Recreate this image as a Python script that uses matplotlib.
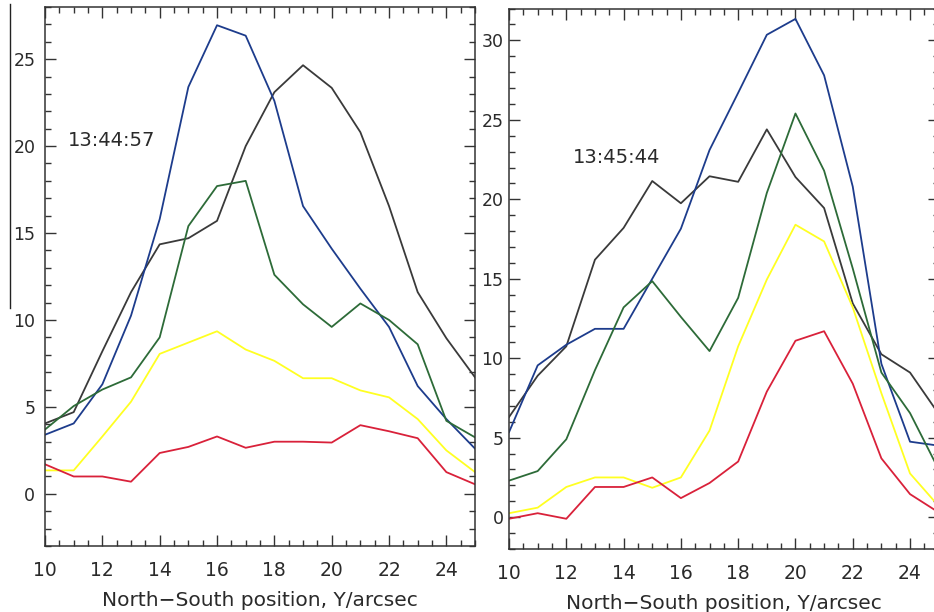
import numpy as np
import matplotlib
matplotlib.use("Agg")
import matplotlib.pyplot as plt
from matplotlib.ticker import MultipleLocator
from matplotlib.lines import Line2D

plt.rcParams['font.family'] = ['DejaVu Sans']

# positions along the slit (arcsec)
y_pos = np.arange(10, 26)

# left panel, 13:44:57
left_black = [4.05, 4.7, 8.2, 11.6, 14.35, 14.7, 15.7, 20.0, 23.1, 24.65, 23.35, 20.8, 16.55, 11.6, 8.95, 6.7]
left_blue = [3.4, 4.05, 6.3, 10.25, 15.8, 23.4, 26.95, 26.35, 22.6, 16.55, 14.1, 11.8, 9.6, 6.2, 4.3, 2.6]
left_green = [3.7, 5.05, 6.0, 6.7, 9.0, 15.4, 17.7, 18.0, 12.6, 10.9, 9.6, 10.95, 10.0, 8.6, 4.2, 3.25]
left_yellow = [1.35, 1.35, 3.3, 5.3, 8.05, 8.7, 9.35, 8.3, 7.65, 6.65, 6.65, 5.95, 5.55, 4.3, 2.5, 1.25]
left_red = [1.7, 1.0, 1.0, 0.7, 2.35, 2.7, 3.3, 2.65, 3.0, 3.0, 2.95, 3.95, 3.6, 3.2, 1.25, 0.55]

# right panel, 13:45:44
right_black = [6.3, 8.9, 10.75, 16.2, 18.2, 21.15, 19.75, 21.45, 21.1, 24.4, 21.4, 19.45, 13.45, 10.25, 9.1, 6.5]
right_blue = [5.35, 9.55, 10.85, 11.85, 11.85, 15.0, 18.15, 23.1, 26.7, 30.35, 31.35, 27.8, 20.8, 9.65, 4.75, 4.5]
right_green = [2.3, 2.9, 4.9, 9.25, 13.2, 14.85, 12.6, 10.45, 13.8, 20.4, 25.4, 21.8, 15.65, 9.1, 6.55, 3.0]
right_yellow = [0.25, 0.6, 1.9, 2.5, 2.5, 1.85, 2.5, 5.45, 10.75, 14.95, 18.4, 17.35, 13.2, 7.8, 2.75, 0.7]
right_red = [-0.1, 0.25, -0.1, 1.9, 1.9, 2.5, 1.2, 2.15, 3.5, 7.9, 11.1, 11.7, 8.4, 3.7, 1.45, 0.3]

colors = ['#3a3a3a', '#1d3c8c', '#2d6b38', '#ffff22', '#d9213a']

fig = plt.figure(figsize=(9.34, 6.12), dpi=100)
ax1 = fig.add_axes([0.0482, 0.1078, 0.4604, 0.8808])
ax2 = fig.add_axes([0.545, 0.103, 0.46, 0.883])


def style(ax, ylim, ypad):
    ax.set_xlim(10, 25)
    ax.set_ylim(*ylim)
    ax.xaxis.set_major_locator(MultipleLocator(2))
    ax.xaxis.set_minor_locator(MultipleLocator(0.5))
    ax.yaxis.set_major_locator(MultipleLocator(5))
    ax.yaxis.set_minor_locator(MultipleLocator(1))
    ax.tick_params(which='both', direction='in', top=True, right=True, color='#333333')
    ax.tick_params(which='major', length=8, width=1.0)
    ax.tick_params(which='minor', length=4, width=1.0)
    ax.tick_params(axis='x', labelsize=13.5, pad=11, labelcolor='#2a2a2a')
    ax.tick_params(axis='y', labelsize=12.5, pad=ypad, labelcolor='#2a2a2a')
    for s in ax.spines.values():
        s.set_linewidth(1.1)
        s.set_color('#333333')
    ax.set_xlabel('North\u2212South position, Y/arcsec', fontsize=14.5, color='#2a2a2a', labelpad=8)


for ax, series in [(ax1, [left_black, left_blue, left_green, left_yellow, left_red]),
                   (ax2, [right_black, right_blue, right_green, right_yellow, right_red])]:
    for vals, c in zip(series, colors):
        ax.plot(y_pos, vals, color=c, lw=1.3)

style(ax1, (-3, 28), 7)
style(ax2, (-2, 32), 4)

ax1.text(10.8, 20.3, '13:44:57', fontsize=14, color='#2a2a2a', va='center')
ax2.text(12.24, 22.6, '13:45:44', fontsize=14, color='#2a2a2a', va='center')

# stray vertical rule at the far left
fig.add_artist(Line2D([0.0112, 0.0112], [0.497, 0.9935], color='#222222', lw=1.0))

fig.savefig('out.png', dpi=100)
